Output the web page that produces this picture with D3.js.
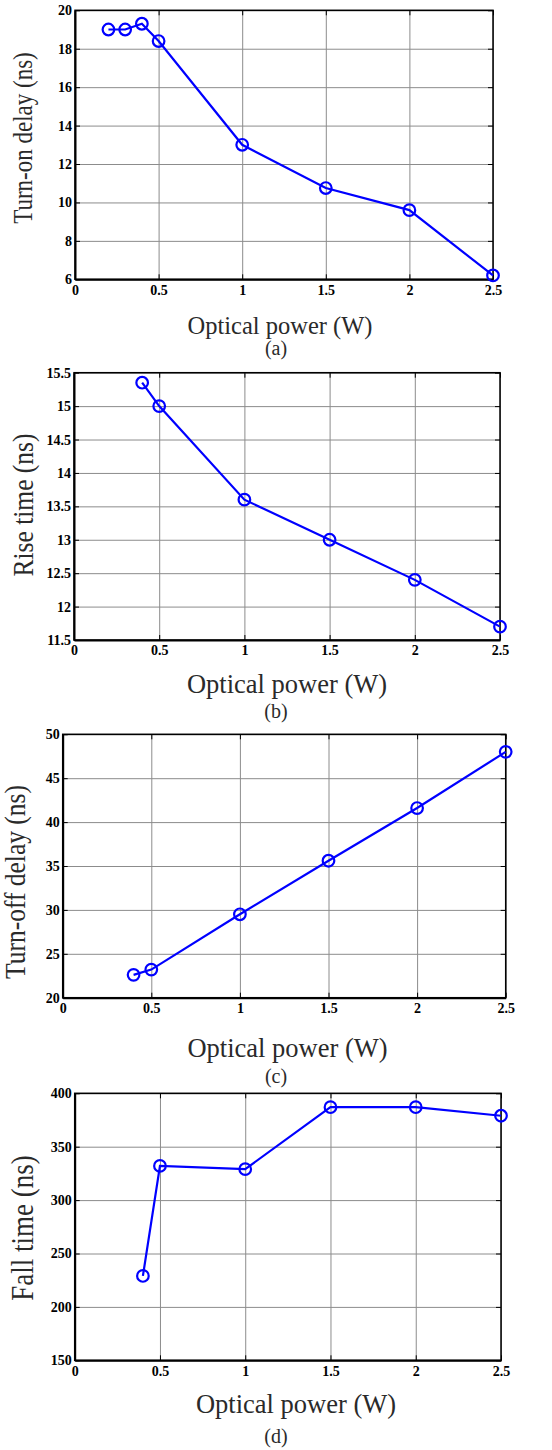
<!DOCTYPE html>
<html>
<head>
<meta charset="utf-8">
<script src="https://cdn.jsdelivr.net/npm/d3@7"></script>
<style>
	body { margin: 0; background: #fff; }
	svg text { font-family: "Liberation Serif", "Times New Roman", serif; }
</style>
</head>
<body>
<div id="chart-area"></div>
<script>
// optical power (W)
let powerA = [0.2, 0.3, 0.4, 0.5, 1, 1.5, 2, 2.5];
let power = [0.4, 0.5, 1, 1.5, 2, 2.5];

// measured values (ns)
let turnOnDelay = [19.0, 19.0, 19.3, 18.4, 13.0, 10.75, 9.6, 6.2];
let riseTime = [15.35, 15.0, 13.6, 13.0, 12.4, 11.7];
let turnOffDelay = [22.6, 23.2, 29.5, 35.6, 41.6, 48.0];
let fallTime = [229, 332, 329, 387, 387, 379];

// tick labels
let xTicks = [0, 0.5, 1, 1.5, 2, 2.5];
let turnOnTicks = [6, 8, 10, 12, 14, 16, 18, 20];
let riseTicks = [11.5, 12, 12.5, 13, 13.5, 14, 14.5, 15, 15.5];
let turnOffTicks = [20, 25, 30, 35, 40, 45, 50];
let fallTicks = [150, 200, 250, 300, 350, 400];

let svg = d3.select("#chart-area").append("svg")
	.attr("width", 552)
	.attr("height", 1450);

// one entry per sub-figure, layout
let panels = [
	{xs: powerA, ys: turnOnDelay, yTicks: turnOnTicks, yLabel: "Turn-on delay (ns)", sub: "(a)",
		left: 75, right: 493, top: 10.3, bottom: 279.3,
		titleX: 280, titleY: 334, titleSize: 24.5, subX: 276, subY: 355,
		labX: 32, labY: 138, labSize: 23},
	{xs: power, ys: riseTime, yTicks: riseTicks, yLabel: "Rise time (ns)", sub: "(b)",
		left: 74, right: 500, top: 372.7, bottom: 640,
		titleX: 287, titleY: 693, titleSize: 26.5, subX: 276, subY: 718,
		labX: 33, labY: 505, labSize: 25.5},
	{xs: power, ys: turnOffDelay, yTicks: turnOffTicks, yLabel: "Turn-off delay (ns)", sub: "(c)",
		left: 62.7, right: 505.7, top: 734.3, bottom: 997.7,
		titleX: 287.5, titleY: 1057, titleSize: 26.5, subX: 276, subY: 1083,
		labX: 24.5, labY: 882, labSize: 25.5},
	{xs: power, ys: fallTime, yTicks: fallTicks, yLabel: "Fall time (ns)", sub: "(d)",
		left: 74.7, right: 501, top: 1093.3, bottom: 1360.3,
		titleX: 296, titleY: 1413, titleSize: 26.5, subX: 276, subY: 1443,
		labX: 33, labY: 1228, labSize: 27}
];

panels.forEach(drawPanel);

function drawPanel(p) {
	let w = p.right - p.left,
		h = p.bottom - p.top;

	let x = d3.scaleLinear()
		.domain([0, 2.5])
		.range([p.left, p.right]);

	let y = d3.scaleLinear()
		.domain(d3.extent(p.yTicks))
		.range([p.bottom, p.top]);

	let g = svg.append("g");

	// grid lines
	let gx = g.append("g")
		.attr("transform", "translate(0," + p.bottom + ")")
		.call(d3.axisBottom(x).tickValues(xTicks).tickSize(-h).tickFormat(""));
	let gy = g.append("g")
		.attr("transform", "translate(" + p.left + ",0)")
		.call(d3.axisLeft(y).tickValues(p.yTicks).tickSize(-w).tickFormat(""));
	[gx, gy].forEach(a => {
		a.select(".domain").remove();
		a.selectAll("line").attr("stroke", "#8c8c8c").attr("stroke-width", 1);
	});

	// frame
	g.append("rect")
		.attr("x", p.left)
		.attr("y", p.top)
		.attr("width", w)
		.attr("height", h)
		.attr("fill", "none")
		.attr("stroke", "#000")
		.attr("stroke-width", 1.5);

	// inward ticks on top and right
	let top = g.append("g")
		.attr("transform", "translate(0," + p.top + ")")
		.call(d3.axisTop(x).tickValues(xTicks).tickSize(-5).tickSizeOuter(0).tickFormat(""));
	let right = g.append("g")
		.attr("transform", "translate(" + p.right + ",0)")
		.call(d3.axisRight(y).tickValues(p.yTicks).tickSize(-5).tickSizeOuter(0).tickFormat(""));
	[top, right].forEach(a => a.select(".domain").remove());

	// labelled axes
	let xAxis = g.append("g")
		.attr("transform", "translate(0," + p.bottom + ")")
		.call(d3.axisBottom(x).tickValues(xTicks).tickSize(-5).tickSizeOuter(0)
			.tickPadding(5.5).tickFormat(d3.format("~g")));
	let yAxis = g.append("g")
		.attr("transform", "translate(" + p.left + ",0)")
		.call(d3.axisLeft(y).tickValues(p.yTicks).tickSize(-5).tickSizeOuter(0)
			.tickPadding(3).tickFormat(d3.format("~g")));
	[xAxis, yAxis].forEach(a => {
		a.select(".domain").attr("stroke-width", 2);
		a.selectAll("text")
			.attr("fill", "#000")
			.style("font-family", "'Liberation Serif', serif")
			.style("font-weight", "bold")
			.style("font-size", "14px");
	});

	// data line and open markers
	let pts = p.xs.map((v, i) => [v, p.ys[i]]);
	let line = d3.line()
		.x(d => x(d[0]))
		.y(d => y(d[1]));

	g.append("path")
		.datum(pts)
		.attr("d", line)
		.attr("fill", "none")
		.attr("stroke", "#0000ff")
		.attr("stroke-width", 2.2);

	g.selectAll(".marker").data(pts)
		.enter()
		.append("circle")
		.attr("class", "marker")
		.attr("cx", d => x(d[0]))
		.attr("cy", d => y(d[1]))
		.attr("r", 5.8)
		.attr("fill", "none")
		.attr("stroke", "#0000ff")
		.attr("stroke-width", 2.2);

	// titles
	g.append("text")
		.attr("x", p.titleX)
		.attr("y", p.titleY)
		.attr("text-anchor", "middle")
		.attr("fill", "#2a2a2a")
		.style("font-size", p.titleSize + "px")
		.text("Optical power (W)");

	g.append("text")
		.attr("x", p.subX)
		.attr("y", p.subY)
		.attr("text-anchor", "middle")
		.attr("fill", "#2a2a2a")
		.style("font-size", "20px")
		.text(p.sub);

	g.append("text")
		.attr("transform", "translate(" + p.labX + "," + p.labY + ") rotate(-90) scale(1,1.15)")
		.attr("text-anchor", "middle")
		.attr("fill", "#2a2a2a")
		.style("font-size", p.labSize + "px")
		.text(p.yLabel);
}
</script>
</body>
</html>
